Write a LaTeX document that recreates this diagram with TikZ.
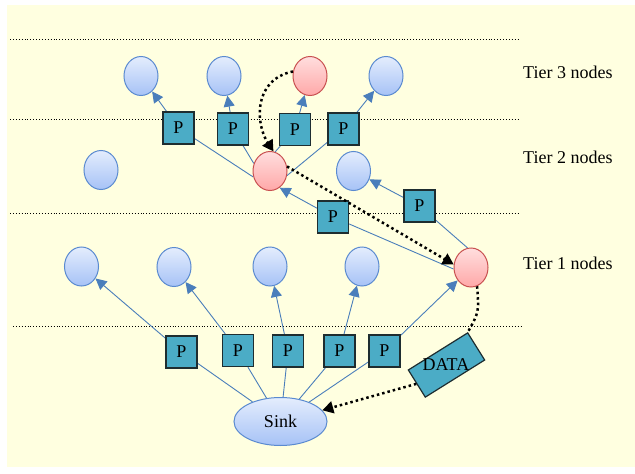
\documentclass[tikz,border=0pt]{standalone}
\usepackage{fontspec}
\setmainfont{Liberation Serif}
\usetikzlibrary{shapes.geometric,arrows.meta}
\definecolor{paper}{RGB}{255,255,224}
\definecolor{linkblue}{RGB}{74,126,187}
\definecolor{nodeedge}{RGB}{90,138,208}
\definecolor{nodetop}{RGB}{228,237,253}
\definecolor{nodebot}{RGB}{166,194,246}
\definecolor{redtop}{RGB}{255,222,222}
\definecolor{redbot}{RGB}{255,168,168}
\definecolor{rededge}{RGB}{200,80,80}
\definecolor{pfill}{RGB}{75,172,198}
\definecolor{pedge}{RGB}{30,45,48}
\pgfdeclarelayer{back}
\pgfsetlayers{back,main}
\tikzset{
  tiernode/.style={ellipse, draw=nodeedge, line width=1pt, top color=nodetop,
    bottom color=nodebot, minimum width=34pt, minimum height=39pt, inner sep=0pt},
  hotnode/.style={tiernode, draw=rededge, top color=redtop, bottom color=redbot},
  pkt/.style={rectangle, draw=pedge, line width=1.2pt, fill=pfill,
    minimum width=31pt, minimum height=32pt, inner sep=0pt},
  link/.style={draw=linkblue, line width=0.9pt},
  linkarrow/.style={link, -{Triangle[length=11pt,width=11pt]}},
  route/.style={black, line width=2.5pt, dash pattern=on 2.5pt off 3pt},
  routearrow/.style={route, -{Triangle[length=11pt,width=12pt]}},
  divider/.style={black, line width=0.9pt, dash pattern=on 0.9pt off 2pt},
  tierlabel/.style={anchor=base west, inner sep=0pt}
}
\begin{document}
\begin{tikzpicture}[x=1pt, y=-1pt, font=\fontsize{18}{20}\selectfont]
\useasboundingbox (0,0) rectangle (635,474);

% tier 3
\node[tiernode] (a1) at (141,76) {};
\node[tiernode] (a2) at (224,76) {};
\node[hotnode]  (a3) at (310,76) {};
\node[tiernode] (a4) at (386,76) {};
% tier 2
\node[tiernode] (b1) at (101,170) {};
\node[hotnode]  (b2) at (270,171) {};
\node[tiernode] (b3) at (353.5,171) {};
% tier 1
\node[tiernode] (c1) at (81.5,266.5) {};
\node[tiernode] (c2) at (174,267) {};
\node[tiernode] (c3) at (270,266.5) {};
\node[tiernode] (c4) at (362,266.5) {};
\node[hotnode]  (c5) at (471,267.5) {};
% sink
\node[tiernode, minimum width=93pt, minimum height=48pt] (sink) at (280.5,421.5) {Sink};

% packets
\node[pkt] (pa1) at (178.5,128) {P};
\node[pkt] (pa2) at (233,129) {P};
\node[pkt] (pa3) at (295,129.5) {P};
\node[pkt] (pa4) at (343.5,129) {P};
\node[pkt] (pb1) at (333,217) {P};
\node[pkt] (pb2) at (419.5,206) {P};
\node[pkt] (pc1) at (181.5,352) {P};
\node[pkt] (pc2) at (238,350.5) {P};
\node[pkt] (pc3) at (288,351) {P};
\node[pkt] (pc4) at (339.5,351) {P};
\node[pkt] (pc5) at (384.5,351) {P};

% data packet (box tilted, text upright)
\node[pkt, minimum width=70pt, minimum height=32pt, rotate=32] (data) at (446.5,365) {};
\node[inner sep=0pt] (datalabel) at (446,365) {DATA};

% tier labels
\node[tierlabel] (t3) at (523,78) {Tier 3 nodes};
\node[tierlabel] (t2) at (523,163.5) {Tier 2 nodes};
\node[tierlabel] (t1) at (523,269.5) {Tier 1 nodes};

\begin{pgfonlayer}{back}
  \fill[paper] (7,5) rectangle (635,467);
  \draw[divider] (10,39) -- (518,39);
  \draw[divider] (10,119) -- (518,119);
  \draw[divider] (10,213) -- (518,213);
  \draw[divider] (13,326) -- (522,326);

  % sink -> tier 1
  \draw[link] (sink) -- (pc1);  \draw[linkarrow] (pc1) -- (c1);
  \draw[link] (sink) -- (pc2);  \draw[linkarrow] (pc2) -- (c2);
  \draw[link] (sink) -- (pc3);  \draw[linkarrow] (pc3) -- (c3);
  \draw[link] (sink) -- (pc4);  \draw[linkarrow] (pc4) -- (c4);
  \draw[link] (sink) -- (pc5);  \draw[linkarrow] (pc5) -- (c5);

  % tier 1 -> tier 2
  \draw[link] (c5.185) -- (pb1);  \draw[linkarrow] (pb1) -- (b2.-60);
  \draw[link] (c5.100) -- (pb2);  \draw[linkarrow] (pb2) -- (b3);

  % tier 2 -> tier 3
  \draw[link] (b2.200) -- (pa1);  \draw[linkarrow] (pa1) -- (a1);
  \draw[link] (b2.155) -- (pa2);  \draw[linkarrow] (pa2) -- (a2);
  \draw[link] (b2.75)  -- (pa3);  \draw[linkarrow] (pa3) -- (a3);
  \draw[link] (b2.-15) -- (pa4);  \draw[linkarrow] (pa4) -- (a4);
\end{pgfonlayer}

% data route back to the sink
\draw[routearrow] (a3.165) .. controls (252,80) and (256,125) .. (b2.80);
\draw[routearrow] (b2.15) -- (c5.170);
\draw[route] (c5.-72) .. controls (479,312) .. (data.north east);
\draw[routearrow] (data.west) -- (sink.15);
\end{tikzpicture}
\end{document}
